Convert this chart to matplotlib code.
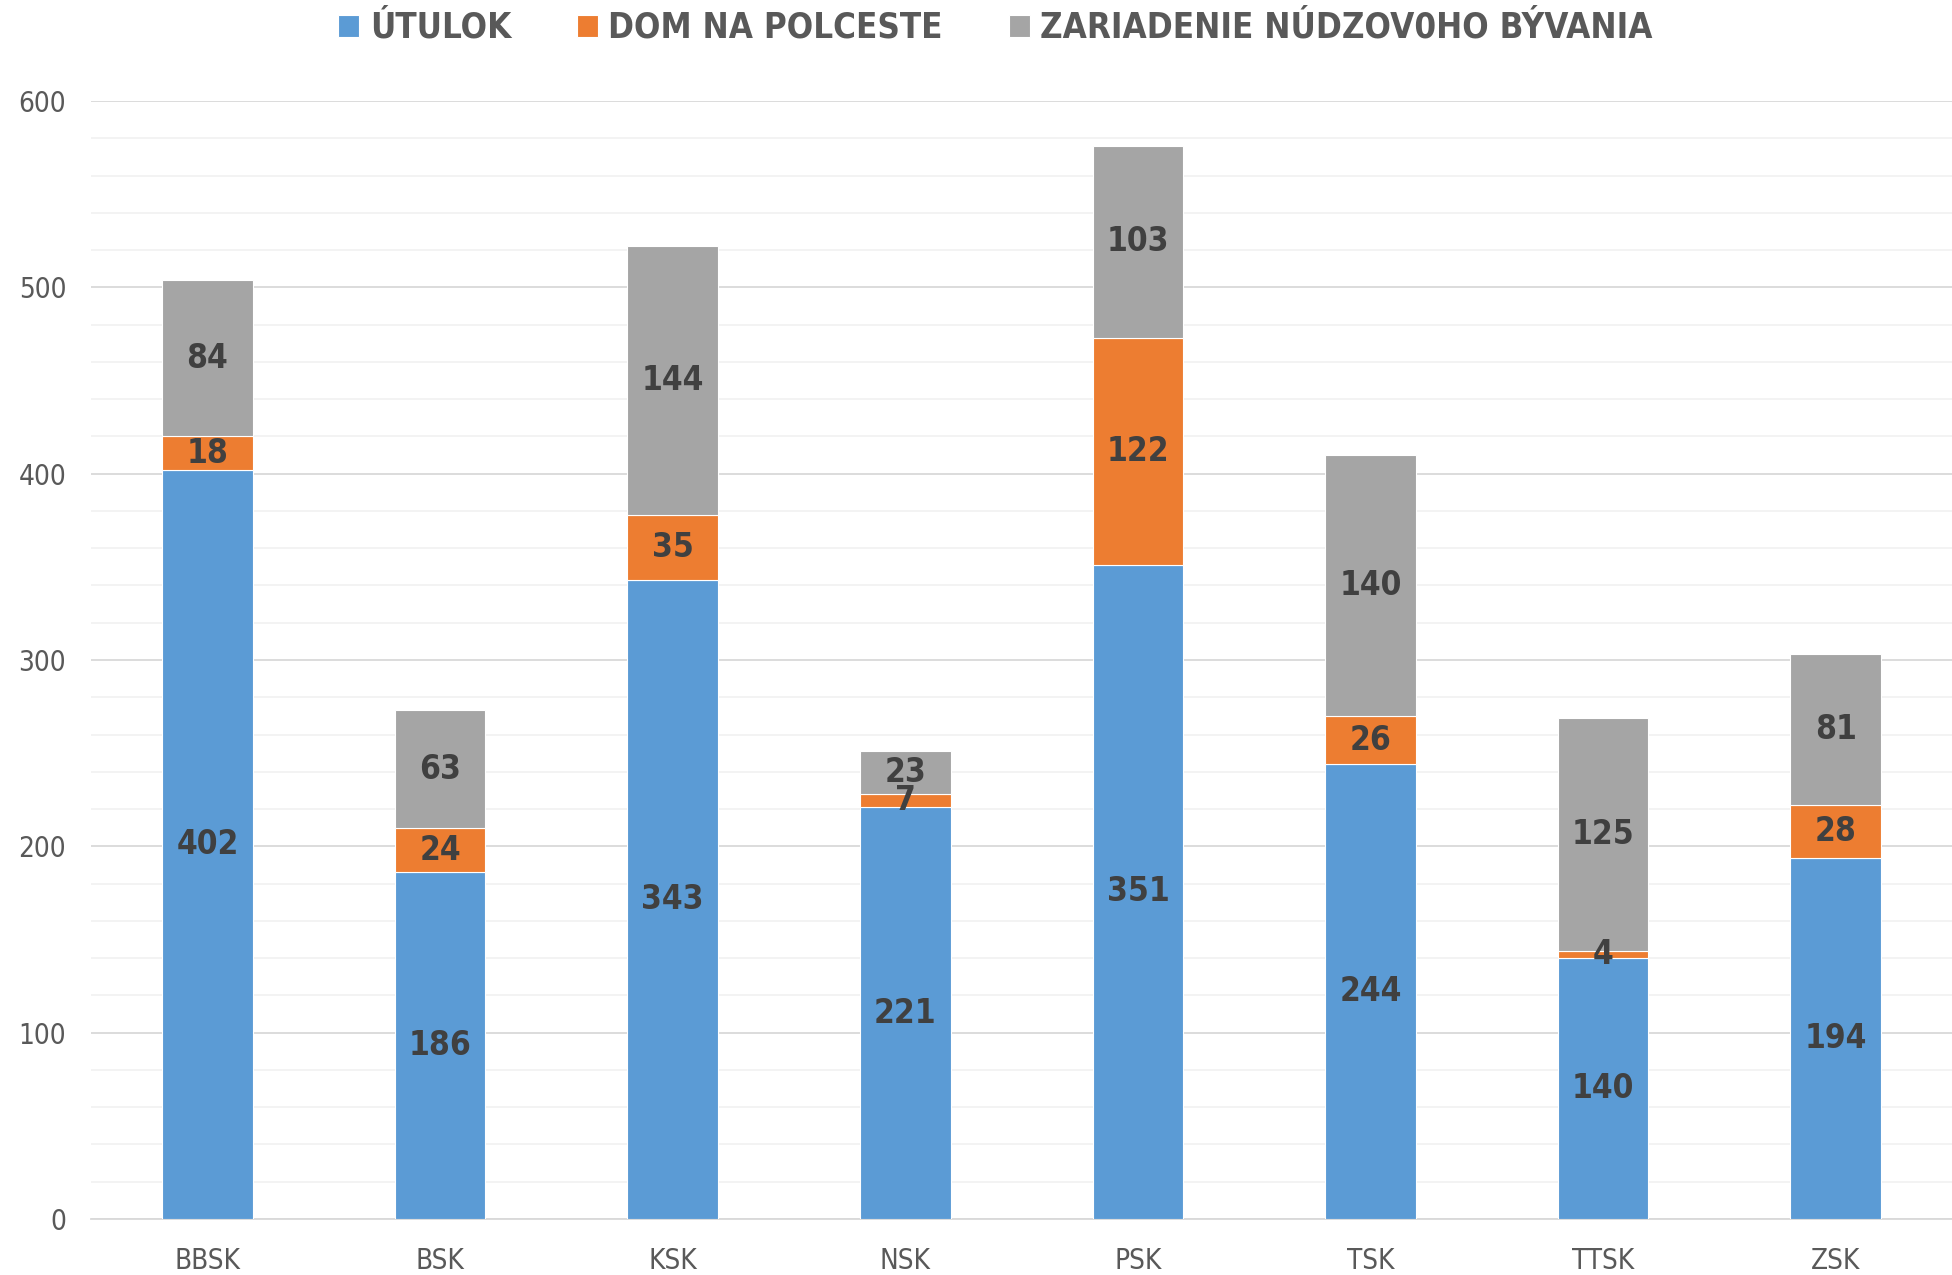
import numpy as np
import matplotlib.pyplot as plt
from matplotlib.ticker import MultipleLocator

plt.rcParams['font.family'] = ['DejaVu Sans']
plt.rcParams['font.stretch'] = 'condensed'

kraje = ['BBSK', 'BSK', 'KSK', 'NSK', 'PSK', 'TSK', 'TTSK', 'ZSK']
utulok = [402, 186, 343, 221, 351, 244, 140, 194]
dom_na_polceste = [18, 24, 35, 7, 122, 26, 4, 28]
zariadenie = [84, 63, 144, 23, 103, 140, 125, 81]

series = [
    ('ÚTULOK', utulok, '#5B9BD5'),
    ('DOM NA POLCESTE', dom_na_polceste, '#ED7D31'),
    ('ZARIADENIE NÚDZOV0HO BÝVANIA', zariadenie, '#A5A5A5'),
]

fig = plt.figure(figsize=(19.52, 12.75), dpi=100)
ax = fig.add_axes([0.0467, 0.0439, 0.9533, 0.8769])

x = np.arange(len(kraje))
bottom = np.zeros(len(kraje))
for name, vals, col in series:
    vals = np.array(vals, dtype=float)
    ax.bar(x, vals, 0.39, bottom=bottom, color=col, label=name,
           edgecolor='white', linewidth=0.8, zorder=3)
    for xi, b, v in zip(x, bottom, vals):
        ax.text(xi, b + v / 2, f'{int(v)}', ha='center', va='center',
                fontsize=24, fontweight='bold', color='#404040', zorder=4)
    bottom += vals

ax.set_xlim(-0.5, len(kraje) - 0.5)
ax.set_ylim(0, 600)
ax.yaxis.set_major_locator(MultipleLocator(100))
ax.yaxis.set_minor_locator(MultipleLocator(20))
ax.grid(axis='y', which='major', color='#D9D9D9', linewidth=1.3, zorder=0)
ax.grid(axis='y', which='minor', color='#F2F2F2', linewidth=1.3, zorder=0)
ax.set_xticks(x)
ax.set_xticklabels(kraje)
ax.tick_params(axis='both', which='both', length=0, labelsize=20,
               labelcolor='#595959')
ax.tick_params(axis='x', pad=20)
ax.tick_params(axis='y', pad=18)
for s in ['top', 'right', 'left']:
    ax.spines[s].set_visible(False)
ax.spines['bottom'].set_color('#D9D9D9')
ax.spines['bottom'].set_linewidth(1.3)

leg = fig.legend(loc='upper center', bbox_to_anchor=(0.51, 1.016), ncol=3,
                 frameon=False, handlelength=0.6, handleheight=0.6,
                 handletextpad=0.3, columnspacing=1.9,
                 prop={'size': 25, 'weight': 'bold', 'stretch': 'condensed'})
for t in leg.get_texts():
    t.set_color('#595959')

plt.savefig('out.png', dpi=100)
